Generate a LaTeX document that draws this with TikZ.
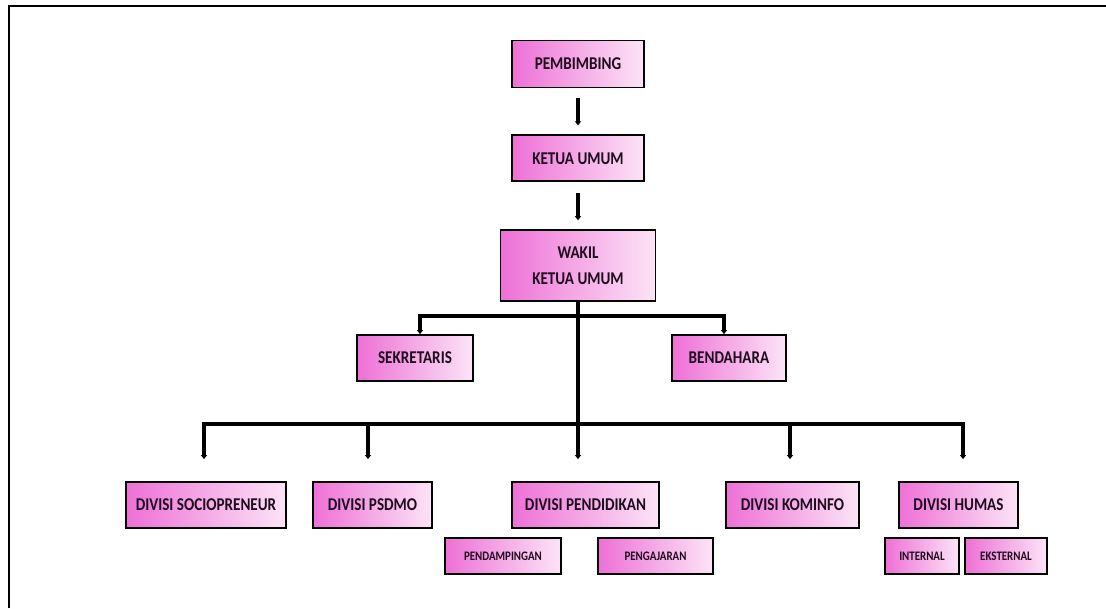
\documentclass[tikz,border=0pt]{standalone}
\usepackage{fontspec}
\setmainfont{Carlito}
\newfontfamily\boxfont[FakeStretch=0.84]{Carlito}
\usetikzlibrary{positioning,calc,arrows.meta}
\definecolor{pinkdark}{RGB}{238,112,214}
\definecolor{pinklight}{RGB}{252,228,247}
\definecolor{inkbox}{RGB}{30,12,30}

\begin{document}
\begin{tikzpicture}
        [
    x=1pt, y=-1pt,
    basic/.style={draw=black, line width=1.8pt, left color=pinkdark, right color=pinklight,
                  text=inkbox, inner sep=0pt, align=center},
    rect/.style={basic, minimum height=46pt, font=\boxfont\bfseries\fontsize{18}{26}\selectfont},
    subrect/.style={basic, minimum height=36pt, font=\boxfont\bfseries\fontsize{13}{14}\selectfont},
    line/.style={line width=3.2pt},
    >={Triangle[length=4pt,width=6pt]}
    ]
    \useasboundingbox (0,0) rectangle (1106,608);
    % Bingkai
    \draw [line width=2.5pt] (9,608) -- (9,6) -- (1106,6);

    % Pimpinan
    \node [rect, minimum width=132pt, minimum height=47pt] (pemb) at (578,64) {PEMBIMBING};
    \node [rect, minimum width=132pt, below=46pt of pemb] (ketua) {KETUA UMUM};
    \node [rect, minimum width=155pt, minimum height=71pt, below=47pt of ketua] (wakil) {WAKIL\\KETUA UMUM};
    \draw [->, line width=4pt, shorten <=10pt, shorten >=9pt] (pemb) -- (ketua);
    \draw [->, line width=4pt, shorten <=11pt, shorten >=9pt] (ketua) -- (wakil);

    % Sekretaris dan bendahara
    \node [rect, minimum width=116pt] (sek) at (415,358) {SEKRETARIS};
    \node [rect, minimum width=114pt] (bend) at (729,358) {BENDAHARA};
    \coordinate (bus1) at (578,316);
    \draw [->, line] (bus1) -| ([xshift=5pt]sek.north);
    \draw [->, line] (bus1) -| ([xshift=-5pt]bend.north);

    % Divisi
    \node [rect, minimum width=160pt] (sosio) at (206,505) {DIVISI SOCIOPRENEUR};
    \node [rect, minimum width=119pt] (psdmo) at (372.5,505) {DIVISI PSDMO};
    \node [rect, minimum width=147pt] (pend) at (585.5,505) {DIVISI PENDIDIKAN};
    \node [rect, minimum width=133pt] (komin) at (792.5,505) {DIVISI KOMINFO};
    \node [rect, minimum width=119pt] (humas) at (958.5,505) {DIVISI HUMAS};
    \coordinate (bus2) at (578,424);
    \draw [line] (wakil.south) -- (bus2);
    \draw [->, line, shorten >=22pt] (bus2) -| ([xshift=-2pt]sosio.north);
    \draw [->, line, shorten >=22pt] (bus2) -| ([xshift=-4.5pt]psdmo.north);
    \draw [->, line, shorten >=22pt] (bus2) -- (bus2 |- pend.north);
    \draw [->, line, shorten >=22pt] (bus2) -| ([xshift=-2.5pt]komin.north);
    \draw [->, line, shorten >=22pt] (bus2) -| ([xshift=4.5pt]humas.north);

    % Sub bagian
    \node [subrect, minimum width=116pt] (pdamp) at (503,556) {PENDAMPINGAN};
    \node [subrect, minimum width=115pt] (pgajar) at (655.5,556) {PENGAJARAN};
    \node [subrect, minimum width=74pt] (intern) at (922,556) {INTERNAL};
    \node [subrect, minimum width=82pt] (ekstern) at (1006,556) {EKSTERNAL};
\end{tikzpicture}
\end{document}
